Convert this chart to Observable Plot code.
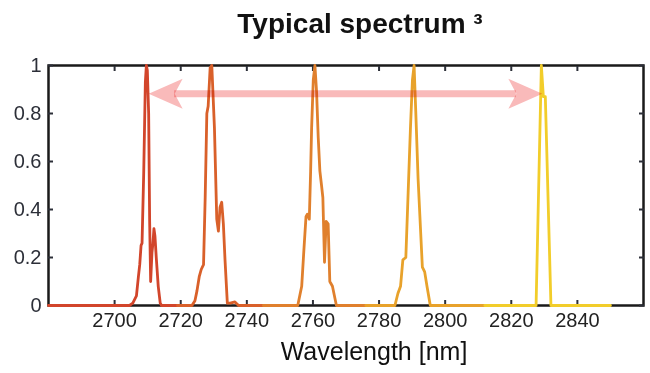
<!DOCTYPE html>
<html><head><meta charset="utf-8">
<script src="https://cdn.jsdelivr.net/npm/d3@7"></script>
<script src="https://cdn.jsdelivr.net/npm/@observablehq/plot@0.6"></script>
<style>
html,body{margin:0;padding:0;background:#fff;}
#wrap{position:relative;width:650px;height:373px;overflow:hidden;font-family:"Liberation Sans",Arial,sans-serif;}
#title{position:absolute;top:7px;left:360px;transform:translateX(-50%);font-weight:bold;font-size:28px;color:#111;white-space:nowrap;line-height:34px;}
#chart{position:absolute;top:50px;left:0;}
</style></head><body>
<div id="wrap"><div id="title">Typical spectrum ³</div><div id="chart"></div></div>
<script>
const seriesNames = ["line 1", "line 2", "line 3", "line 4", "line 5"];
const seriesColors = ["#d2452b", "#d9602a", "#e0802d", "#e8a22b", "#f2cd2a"];

const wl1 = [2680, 2704.5, 2705.5, 2706.6, 2707.2, 2707.6, 2708.0, 2708.3, 2708.8, 2709.3, 2709.6, 2709.9, 2710.3, 2710.6, 2710.9, 2711.3, 2711.6, 2711.9, 2712.2, 2712.6, 2713.2, 2713.8, 2714.2, 2720];
const in1 = [0, 0, 0.01, 0.04, 0.12, 0.17, 0.25, 0.26, 0.55, 0.93, 1.0, 0.98, 0.8, 0.35, 0.10, 0.22, 0.26, 0.32, 0.29, 0.2, 0.08, 0.01, 0, 0];

const wl2 = [2719, 2723.4, 2724.3, 2724.9, 2725.6, 2726.2, 2726.9, 2727.4, 2727.9, 2728.3, 2728.9, 2729.4, 2730.2, 2730.9, 2731.4, 2731.9, 2732.4, 2732.9, 2733.4, 2734.1, 2735.0, 2736.4, 2737.5, 2745];
const in2 = [0, 0, 0.02, 0.06, 0.12, 0.15, 0.17, 0.45, 0.80, 0.83, 0.99, 1.0, 0.74, 0.36, 0.31, 0.41, 0.43, 0.34, 0.19, 0.01, 0.01, 0.015, 0, 0];

const wl3 = [2745, 2755.4, 2756.6, 2757.3, 2757.9, 2758.3, 2758.9, 2759.3, 2759.6, 2760.1, 2760.6, 2761.1, 2761.6, 2762.1, 2762.6, 2763.0, 2763.5, 2764.0, 2764.6, 2765.1, 2765.9, 2767.1, 2776];
const in3 = [0, 0, 0.08, 0.24, 0.37, 0.38, 0.36, 0.56, 0.74, 0.94, 1.0, 0.89, 0.70, 0.56, 0.50, 0.45, 0.18, 0.35, 0.34, 0.10, 0.08, 0, 0];

const wl4 = [2776, 2784.8, 2785.7, 2786.5, 2787.2, 2788.1, 2788.8, 2789.5, 2790.1, 2790.6, 2791.1, 2791.8, 2792.5, 2793.1, 2793.8, 2794.5, 2795.5, 2812];
const in4 = [0, 0, 0.05, 0.08, 0.19, 0.20, 0.47, 0.74, 0.94, 1.0, 0.81, 0.53, 0.33, 0.16, 0.14, 0.08, 0, 0];

const wl5 = [2812, 2827.5, 2829.1, 2829.7, 2830.3, 2832.0, 2850];
const in5 = [0, 0, 1.0, 0.87, 0.87, 0, 0];

const xTicks = [2700, 2720, 2740, 2760, 2780, 2800, 2820, 2840];
const yTicks = [0, 0.2, 0.4, 0.6, 0.8, 1];
const arrowEnds = [2710.3, 2829.4];
const arrowLevel = 0.882;
const xLabel = "Wavelength [nm]";

const wls = [wl1, wl2, wl3, wl4, wl5];
const ins = [in1, in2, in3, in4, in5];
const rows = [];
wls.forEach((w, i) => w.forEach((x, j) => rows.push({s: seriesNames[i], wl: x, v: ins[i][j]})));

const headLeft = {draw(ctx) { ctx.moveTo(0, 0); ctx.lineTo(34, -15); ctx.lineTo(26, 0); ctx.lineTo(34, 15); ctx.closePath(); }};
const headRight = {draw(ctx) { ctx.moveTo(0, 0); ctx.lineTo(-34, -15); ctx.lineTo(-26, 0); ctx.lineTo(-34, 15); ctx.closePath(); }};
const pink = "#f9baba";

const chart = Plot.plot({
  width: 650, height: 323,
  marginTop: 15, marginBottom: 68, marginLeft: 48, marginRight: 7,
  style: {fontFamily: "'Liberation Sans', Arial, sans-serif", fontSize: "20px", color: "#2c2f38", background: "#fff", overflow: "visible"},
  x: {domain: [2680, 2860], label: null},
  y: {domain: [0, 1], label: null},
  color: {domain: seriesNames, range: seriesColors},
  marks: [
    Plot.frame({stroke: "#1a1a1a", strokeWidth: 2.5}),
    Plot.axisX(xTicks, {anchor: "bottom", tickSize: -5, tickPadding: 12, strokeWidth: 2, tickFormat: d => String(d), label: null, fill: "#222"}),
    Plot.axisX(xTicks, {anchor: "top", tickSize: -5, strokeWidth: 2, tickFormat: () => "", label: null}),
    Plot.axisY(yTicks, {anchor: "left", tickSize: -5, tickPadding: 12, strokeWidth: 2, tickFormat: d => String(d), label: null, fill: "#2c2f38"}),
    Plot.axisY(yTicks, {anchor: "right", tickSize: -5, strokeWidth: 2, tickFormat: () => "", label: null}),
    Plot.line(rows, {x: "wl", y: "v", z: "s", stroke: "s", strokeWidth: 2.8, strokeLinejoin: "round"}),
    Plot.ruleY([arrowLevel], {x1: arrowEnds[0], x2: arrowEnds[1], insetLeft: 26, insetRight: 26, stroke: pink, strokeWidth: 7, mixBlendMode: "multiply"}),
    Plot.dot([arrowEnds[0]], {x: d => d, y: arrowLevel, symbol: headLeft, fill: pink, stroke: null, mixBlendMode: "multiply"}),
    Plot.dot([arrowEnds[1]], {x: d => d, y: arrowLevel, symbol: headRight, fill: pink, stroke: null, mixBlendMode: "multiply"}),
    Plot.text([xLabel], {text: d => d, frameAnchor: "bottom", dy: 54, dx: 28, fontSize: 25, fill: "#111"})
  ]
});
document.getElementById("chart").appendChild(chart);
</script>
</body></html>
